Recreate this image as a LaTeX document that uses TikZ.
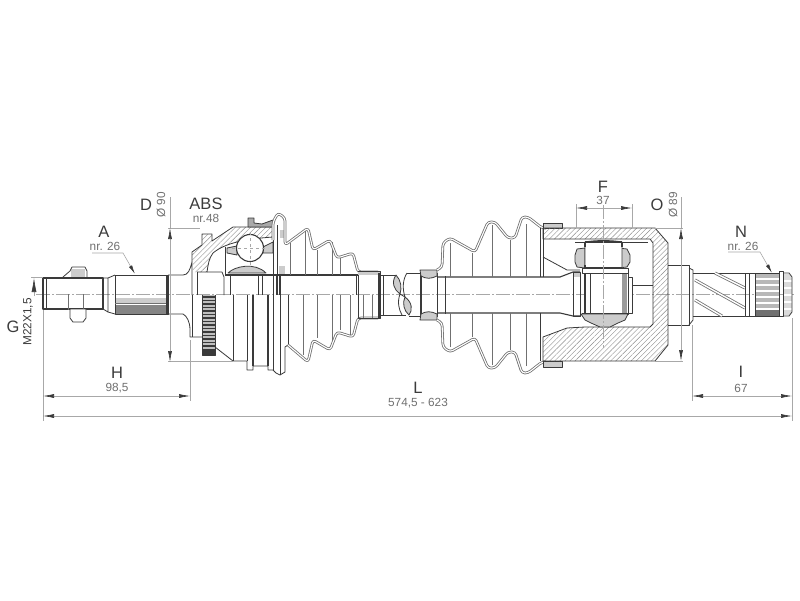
\documentclass[tikz,border=0pt]{standalone}
\usepackage{fontspec}
\setmainfont{Liberation Sans}
\usetikzlibrary{arrows.meta,patterns.meta}
\definecolor{ink}{HTML}{3A3A3A}
\definecolor{dimc}{HTML}{A8A8A8}
\definecolor{txt}{HTML}{3C3C3C}
\definecolor{fillg}{HTML}{CCCCCC}
\definecolor{darkg}{HTML}{707070}
\tikzset{
 part/.style={draw=ink,line width=.8pt,line join=round},
 heavy/.style={draw=ink,line width=1.3pt},
 thin part/.style={draw=darkg,line width=.6pt},
 centre/.style={draw=dimc,line width=.5pt,dash pattern=on 14pt off 2pt on 2pt off 2pt},
 ext/.style={draw=dimc,line width=.6pt},
 dimline/.style={draw=dimc,line width=.6pt,{Latex[length=11pt,width=4pt,color=ink]}-{Latex[length=11pt,width=4pt,color=ink]}},
 dimend/.style={draw=dimc,line width=.6pt,-{Latex[length=14pt,width=5pt,color=ink]}},
 leader/.style={draw=dimc,line width=.6pt,-{Latex[length=9pt,width=3.5pt,color=ink]}},
 boot/.style={draw=darkg,line width=.8pt,double=white,double distance=1.1pt,rounded corners=3pt,line join=round},
 hatched/.style={pattern={Lines[angle=45,distance=3.6pt,line width=.4pt]},pattern color=darkg!80},
 big/.style={text=txt,font=\fontsize{16.5}{16.5}\selectfont,inner sep=0pt},
 small/.style={text=darkg,font=\fontsize{11.8}{12}\selectfont,inner sep=0pt},
 mirrored/.style={shift={(0,590)},yscale=-1},
}
\begin{document}
\begin{tikzpicture}[x=1pt,y=-1pt]
\useasboundingbox (0,0) rectangle (800,600);
\fill[white] (0,0) rectangle (800,600);

% ---------- centre line
\draw[centre] (36,294.5) -- (795,294.5);

% ---------- left threaded end
\draw[part,line width=1.1pt] (43,278) rectangle (103,309);
\draw[part] (46,278) -- (46,309);
\fill[fillg] (71,269) rectangle (85,277);
\draw[part] (63,277) -- (70,271) -- (72,267) -- (85,267) -- (87,271) -- (87,277);
\draw[thin part] (68,294) -- (68,310) (83,294) -- (83,310);
\draw[part,fill=white] (70,309) -- (70,318) -- (73,322) -- (83,322) -- (86,318) -- (86,309) -- cycle;
\draw[part] (103,278) -- (108,278) -- (108,312) -- (103,309);
\draw[part] (108,278) -- (115,275) (108,312) -- (115,314);
% splined part
\fill[darkg!85] (115,305) rectangle (168,314);
\fill[fillg] (115,298) rectangle (168,303);
\draw[part] (115,275) rectangle (168,314);
\draw[thin part] (115,303) -- (168,303);
\draw[heavy] (167,275) -- (167,314);
% stem and flange
\draw[part] (168,275) -- (183,275) .. controls (188,275) and (190,270) .. (192,262) -- (192,295);
\draw[part] (168,314) -- (183,314) .. controls (187,316) and (190,322) .. (190,330) -- (190,337) -- (202,337);
\draw[part] (192,295) -- (192,337);
\draw[part] (197,272) -- (197,295);

% ---------- ABS ring
\fill[darkg!45] (202,295) rectangle (215,355);
\foreach \yy in {297,300.5,...,350}{\draw[ink,line width=1.3pt] (202,\yy) -- (215,\yy);}
\fill[ink] (202,349) rectangle (215,355);
\draw[part] (202,295) -- (202,355) -- (215,355) -- (215,295);

% ---------- outer joint: hatched bell
\path[hatched] (192,252) -- (202,245) -- (202,234) -- (212,234) -- (212,241) -- (233,227) -- (273,227) -- (273,237)
  .. controls (245,239) and (225,243) .. (213,253) .. controls (209,258) and (208,265) .. (207,272) -- (193,272) -- cycle;
\draw[part] (192,262) -- (192,252) -- (202,245) -- (202,234) -- (212,234) -- (212,241) -- (233,227) -- (273,227);
\draw[part] (273,237) .. controls (245,239) and (225,243) .. (213,253) .. controls (209,258) and (208,265) .. (207,272) -- (197,272);
\draw[part] (207,272) -- (222,272) -- (224,277) -- (224,295);
% cage, ball, race
\draw[part] (225,247) -- (225,275);
\draw[part,fill=fillg] (227,248) -- (237,246) -- (237,255) -- (227,253) -- cycle;
\draw[part,fill=fillg] (263,247) -- (273,242) -- (273,253) -- (263,253) -- cycle;
\draw[part,fill=fillg] (228,273) .. controls (235,266) and (255,262) .. (266,273) -- cycle;
\draw[part,line width=1.1pt,fill=white] (250,248) circle (13.5);
\draw[draw=dimc,line width=.4pt,dashed] (232,248) -- (268,248) (250,232) -- (250,266);
% housing clamp
\draw[part,fill=darkg!60] (248,218) -- (254,218) -- (254,223) -- (262,224) -- (273,220) -- (273,227) -- (248,227) -- cycle;
\fill[fillg] (280,230) rectangle (284,238);
\fill[fillg] (279,266) rectangle (285,274);

% shaft of the outer part
\draw[heavy] (225,275) -- (358,275);
\foreach \xx in {230,258,262,356,358}{\draw[part] (\xx,275) -- (\xx,295);}
\draw[part] (273,227) -- (273,295) (277,225) -- (277,275);
\draw[heavy] (277,275) -- (277,295) (280,275) -- (280,295);
% lower half body
\draw[part] (215,347) -- (233,361) -- (247,361) -- (247,370) -- (253,370) -- (253,366) -- (268,366) -- (268,370) -- (273,370) -- (276,373) -- (280,375) -- (285,372) -- (285,347) -- (288,345);
\draw[part] (233,295) -- (233,361) (247,295) -- (247,361);
\draw[heavy] (253,295) -- (253,366) (268,295) -- (268,366);
\draw[part] (273,295) -- (273,370) (280,295) -- (280,375) (288,295) -- (288,345);
\draw[part] (215,295) -- (215,347);
% boot inner lines
\foreach \xx/\yy in {290/243,305/230,317/250,332/242,340/258}{\draw[thin part] (\xx,\yy) -- (\xx,275);}
\foreach \xx/\yy in {303/355,317/338,332/345,340/330,350/335}{\draw[thin part] (\xx,295) -- (\xx,\yy);}
% outer boot
\draw[boot] (273,240) -- (273,222) -- (278,213) -- (285,218) -- (285,245) -- (308,228) -- (313,250) -- (330,240) -- (337,258) -- (353,253) -- (358,272) -- (378,272);
\begin{scope}[mirrored]
\draw[boot] (288,245) -- (308,228) -- (313,250) -- (330,240) -- (337,258) -- (353,253) -- (358,272) -- (378,272);
\end{scope}
% inner end of outer shaft
\draw[part] (358,271) rectangle (380,318);
\fill[fillg] (358,272) rectangle (380,275);
\draw[thin part] (363,295) -- (363,318) (372,295) -- (372,318);
\draw[heavy] (379,273) -- (379,318);
\draw[part] (383,275) -- (383,315) (380,275) -- (396,275) (380,315) -- (406,315);

% ---------- break
\draw[part,fill=fillg] (396,275) .. controls (391,282) and (394,290) .. (400,294) .. controls (402,288) and (401,280) .. (396,275) -- cycle;
\draw[part,fill=fillg] (405,297) .. controls (402,303) and (404,311) .. (409,315) .. controls (413,310) and (412,302) .. (405,297) -- cycle;
\draw[part] (400,294) -- (405,297) (407,273) .. controls (403,279) and (402,288) .. (405,297) (400,294) .. controls (397,302) and (399,310) .. (402,315);

% ---------- inner shaft
\draw[part] (407,273) -- (421,273) (409,316) -- (421,316);
\draw[heavy] (421,273) -- (421,317);
\draw[part] (437,273) -- (437,317) (445,276) -- (445,314);
\draw[part,line width=1.1pt] (437,277) -- (560,277) -- (573,272) -- (580,272) (437,313) -- (560,313) -- (573,316) -- (580,316);
\fill[fillg] (573,272) rectangle (580,277);
\draw[part] (573,272) rectangle (580,316);
% clamps small
\draw[part,fill=fillg] (420,270) -- (437,270) -- (437,276) .. controls (431,279) and (426,279) .. (421,276) -- cycle;
\begin{scope}[mirrored]
\draw[part,fill=fillg] (420,270) -- (437,270) -- (437,276) .. controls (431,279) and (426,279) .. (421,276) -- cycle;
\end{scope}
% boot inner lines
\foreach \xx/\yy in {450/243,472/253,492/225,510/240,526/224}{
  \draw[thin part] (\xx,\yy) -- (\xx,277);
  \draw[thin part] (\xx,590-\yy) -- (\xx,313);}
% inner boot
\draw[boot] (437,270) -- (442,267) -- (443,243) -- (450,238) -- (475,252) -- (488,222) -- (495,222) -- (508,238) -- (515,238) -- (522,217) -- (528,217) -- (542,228) -- (546,228);
\begin{scope}[mirrored]
\draw[boot] (437,270) -- (442,267) -- (443,243) -- (450,238) -- (475,252) -- (488,222) -- (495,222) -- (508,238) -- (515,238) -- (522,217) -- (528,217) -- (542,228) -- (546,228);
\end{scope}
% big clamps
\draw[part,fill=fillg] (543,223) -- (562,223) -- (562,228) -- (543,228) -- cycle;
\draw[part,fill=fillg] (543,367) -- (562,367) -- (562,361) -- (543,361) -- cycle;

% ---------- housing
\path[hatched] (543,228) -- (655,228) -- (668,243) -- (668,345) -- (655,361) -- (543,361) -- (543,337) -- (567,328) -- (585,327) -- (650,327) -- (653,324) -- (653,243) -- (650,239) -- (543,239) -- cycle;
\draw[part] (543,228) -- (655,228) -- (668,243) -- (668,345) -- (655,361) -- (543,361) -- (543,337) -- (567,328) -- (585,327) -- (650,327) -- (653,324) -- (653,243) -- (650,239) -- (543,239) -- cycle;
\draw[part] (543,228) -- (543,277) (540,228) -- (540,277) (540,313) -- (540,361);
\draw[part] (543,257) -- (567,270) -- (580,270);
\draw[part] (575,242) -- (648,242);
\draw[part] (632,285) -- (653,285);
% tripod
\draw[part,fill=fillg] (585,248) -- (577,249) -- (575,255) -- (575,262) -- (577,267) -- (585,268) -- cycle;
\draw[part,fill=fillg] (618,248) -- (627,249) -- (630,255) -- (630,262) -- (627,267) -- (618,268) -- cycle;
\draw[part,fill=white] (585,242) .. controls (595,240) and (612,240) .. (622,242) -- (622,268) -- (585,268) -- cycle;
\draw[heavy] (585,242) -- (622,242) (585,242) -- (585,247) (622,242) -- (622,247) (585,265) -- (585,268) -- (622,268);
\draw[part,fill=white] (582,268) rectangle (628,273);
\draw[part,fill=white] (628,277) rectangle (632,313);
\draw[part,fill=white] (585,273) rectangle (628,314);
\fill[darkg!70] (622,274) rectangle (627,313);
\draw[part] (590,273) -- (590,314);
\draw[heavy] (585,273) -- (585,314) (582,314) -- (628,314);
\draw[part,fill=fillg] (581,314) -- (585,320) -- (591,323) -- (600,327) -- (610,327) -- (618,323) -- (625,320) -- (628,314) -- cycle;
\draw[centre] (603,205) -- (603,348);

% ---------- right end
\draw[part] (668,265) -- (689,265) -- (689,325) -- (668,325);
\draw[part] (689,268) -- (693,270) -- (693,320) -- (689,325);
\draw[part] (693,273) -- (745,273) (693,316) -- (745,316);
\foreach \a/\b/\c/\d in {715/273/745/288,695/280/745/308,695/300/722/316}{
  \draw[draw=darkg,line width=.8pt,double=white,double distance=1.4pt] (\a,\b) -- (\c,\d);}
\draw[part] (745,273) rectangle (755,316);
\draw[part] (749,273) -- (749,316);
\fill[darkg!50] (755,273) rectangle (779,316);
\foreach \yy in {279,285,291,297,303,309}{\draw[white,line width=1.3pt] (755,\yy) -- (779,\yy);}
\fill[darkg] (755,310) rectangle (779,316);
\draw[part] (755,273) rectangle (779,316);
\fill[fillg!70] (783,274) -- (789,274) -- (792,278) -- (792,312) -- (789,315) -- (783,315) -- cycle;
\foreach \yy in {281,288,295,302,309}{\draw[white,line width=1.1pt] (783,\yy) -- (792,\yy);}
\draw[part] (783,273) -- (789,273) -- (792,277) -- (792,312) -- (789,316) -- (783,316);
\draw[part] (779,271) rectangle (783,316);

% ---------- dimensions
\coordinate (gTip) at (34,278); \coordinate (gBase) at (34,296);
\draw[ext] (31,277) -- (43,277);
\draw[ext] (43,310) -- (43,421);
\draw[dimend] (gBase) -- (gTip);
\node[big] (lblG) at (13,327) {G};
\node[small,rotate=90,text=txt] (lblM) at (28,322) {M22X1,5};

\draw[ext] (190,340) -- (190,401);
\coordinate (hL) at (43,396); \coordinate (hR) at (190,396);
\draw[dimline] (hL) -- (hR);
\node[big] (lblH) at (117,373) {H};
\node[small] (valH) at (117,388) {98,5};

\draw[ext] (692,325) -- (692,401);
\draw[ext] (792,318) -- (792,421);
\coordinate (iL) at (692,396); \coordinate (iR) at (792,396);
\draw[dimline] (iL) -- (iR);
\node[big] (lblI) at (741,372) {I};
\node[small] (valI) at (741,388) {67};

\coordinate (lL) at (43,416); \coordinate (lR) at (792,416);
\draw[dimline] (lL) -- (lR);
\node[big] (lblL) at (418,388) {L};
\node[small] (valL) at (418,403) {574,5 - 623};

\draw[ext] (168,228) -- (200,228) (168,361) -- (233,361);
\draw[ext] (170,197) -- (170,228);
\coordinate (dT) at (170,228); \coordinate (dB) at (170,362);
\draw[dimline] (dT) -- (dB);
\node[big] (lblD) at (146,205) {D};
\node[small,rotate=90] (valD) at (161,205) {Ø 90};

\node[big] (lblABS) at (206,204) {ABS};
\node[small] (valABS) at (206,218) {nr.48};

\node[big] (lblA) at (104,232) {A};
\node[small] (valA) at (105,246) {nr. 26};
\coordinate (aL) at (92,253); \coordinate (aM) at (123,253); \coordinate (aT) at (135,274);
\draw[leader] (aL) -- (aM) -- (aT);

\node[big] (lblN) at (741,232) {N};
\node[small] (valN) at (743,246) {nr. 26};
\coordinate (nL) at (728,252); \coordinate (nM) at (760,252); \coordinate (nT) at (772,273);
\draw[leader] (nL) -- (nM) -- (nT);

\draw[ext] (576,204) -- (576,228) (632,204) -- (632,228);
\coordinate (fL) at (576,208); \coordinate (fR) at (632,208);
\draw[dimline] (fL) -- (fR);
\node[big] (lblF) at (603,187) {F};
\node[small] (valF) at (603,200) {37};

\draw[ext] (655,228) -- (683,228) (655,361) -- (683,361);
\draw[ext] (681,197) -- (681,228);
\coordinate (oT) at (681,228); \coordinate (oB) at (681,361);
\draw[dimline] (oT) -- (oB);
\node[big] (lblO) at (657,205) {O};
\node[small,rotate=90] (valO) at (673,205) {Ø 89};
\end{tikzpicture}
\end{document}
